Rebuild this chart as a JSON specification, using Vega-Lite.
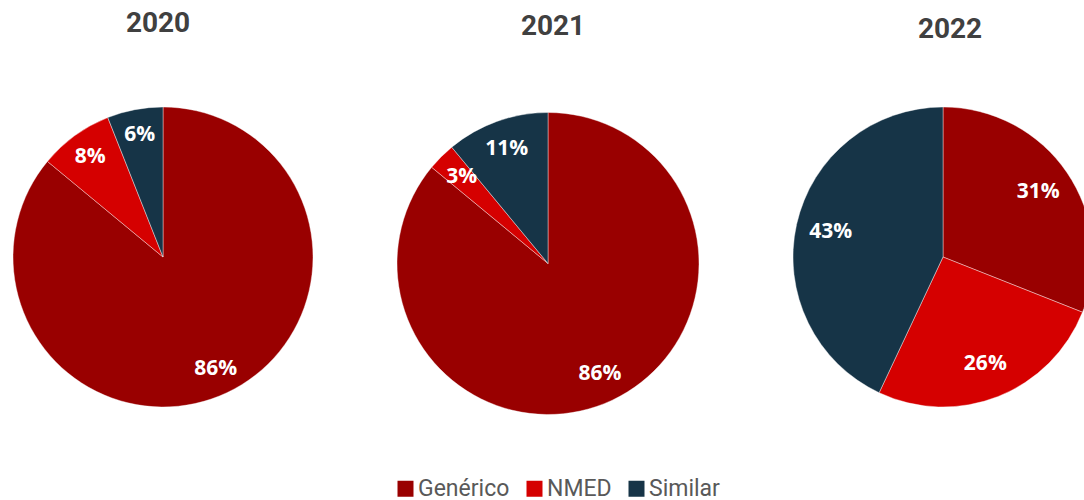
{
  "$schema": "https://vega.github.io/schema/vega-lite/v6.json",
  "autosize": {"type": "pad"},
  "padding": {"left": 0, "top": 10, "right": 0, "bottom": 0},
  "background": "white",
  "spacing": 0,
  "data": {
    "values": [
      {"anio": 2020, "categoria": "Genérico", "valor": 0.86},
      {"anio": 2020, "categoria": "NMED", "valor": 0.08},
      {"anio": 2020, "categoria": "Similar", "valor": 0.06},
      {"anio": 2021, "categoria": "Genérico", "valor": 0.86},
      {"anio": 2021, "categoria": "NMED", "valor": 0.03},
      {"anio": 2021, "categoria": "Similar", "valor": 0.11},
      {"anio": 2022, "categoria": "Genérico", "valor": 0.31},
      {"anio": 2022, "categoria": "NMED", "valor": 0.26},
      {"anio": 2022, "categoria": "Similar", "valor": 0.43}
    ]
  },
  "hconcat": [
    {
      "width": 326,
      "height": 300,
      "title": {"text": "2020", "dx": -5, "offset": 68},
      "transform": [{"filter": "datum.anio == 2020"}],
      "layer": [
        {
          "mark": {"type": "arc", "outerRadius": 150, "stroke": "#ffffff", "strokeWidth": 0.4},
          "encoding": {
            "theta": {"field": "valor", "type": "quantitative", "stack": true},
            "order": {"field": "categoria", "type": "ordinal", "sort": "ascending"},
            "color": {
              "field": "categoria",
              "type": "nominal",
              "scale": {"domain": ["Genérico", "NMED", "Similar"], "range": ["#990000", "#d50000", "#163447"]},
              "legend": {"orient": "none", "legendX": 394, "legendY": 370, "direction": "horizontal", "title": null}
            }
          }
        },
        {
          "mark": {"type": "text", "radius": 124, "font": "Open Sans", "fontWeight": "bold", "fontSize": 21, "color": "#ffffff"},
          "encoding": {
            "theta": {"field": "valor", "type": "quantitative", "stack": true},
            "order": {"field": "categoria", "type": "ordinal", "sort": "ascending"},
            "text": {"field": "valor", "type": "quantitative", "format": ".0%"}
          }
        }
      ]
    },
    {
      "width": 444,
      "height": 313,
      "title": {"text": "2021", "dx": 5, "offset": 66},
      "transform": [{"filter": "datum.anio == 2021"}],
      "layer": [
        {
          "mark": {"type": "arc", "outerRadius": 151, "stroke": "#ffffff", "strokeWidth": 0.4},
          "encoding": {
            "theta": {"field": "valor", "type": "quantitative", "stack": true},
            "order": {"field": "categoria", "type": "ordinal", "sort": "ascending"},
            "color": {"field": "categoria", "type": "nominal"}
          }
        },
        {
          "mark": {"type": "text", "radius": 122, "font": "Open Sans", "fontWeight": "bold", "fontSize": 21, "color": "#ffffff"},
          "encoding": {
            "theta": {"field": "valor", "type": "quantitative", "stack": true},
            "order": {"field": "categoria", "type": "ordinal", "sort": "ascending"},
            "text": {"field": "valor", "type": "quantitative", "format": ".0%"}
          }
        }
      ]
    },
    {
      "width": 346,
      "height": 300,
      "title": {"text": "2022", "dx": 7, "offset": 62},
      "transform": [{"filter": "datum.anio == 2022"}],
      "layer": [
        {
          "mark": {"type": "arc", "outerRadius": 150, "stroke": "#ffffff", "strokeWidth": 0.4},
          "encoding": {
            "theta": {"field": "valor", "type": "quantitative", "stack": true},
            "order": {"field": "categoria", "type": "ordinal", "sort": "ascending"},
            "color": {"field": "categoria", "type": "nominal"}
          }
        },
        {
          "mark": {"type": "text", "radius": 115, "font": "Open Sans", "fontWeight": "bold", "fontSize": 21, "color": "#ffffff"},
          "encoding": {
            "theta": {"field": "valor", "type": "quantitative", "stack": true},
            "order": {"field": "categoria", "type": "ordinal", "sort": "ascending"},
            "text": {"field": "valor", "type": "quantitative", "format": ".0%"}
          }
        }
      ]
    }
  ],
  "resolve": {"scale": {"color": "shared"}},
  "config": {
    "view": {"stroke": null},
    "title": {"font": "Roboto", "fontSize": 28, "fontWeight": "bold", "color": "#404040", "anchor": "middle", "baseline": "alphabetic"},
    "legend": {
      "symbolType": "square",
      "symbolSize": 256,
      "symbolStrokeWidth": 0,
      "symbolOpacity": 1,
      "labelFont": "Roboto",
      "labelFontSize": 23,
      "labelColor": "#595959",
      "labelOffset": 1,
      "columnPadding": 13,
      "padding": 0
    }
  }
}
